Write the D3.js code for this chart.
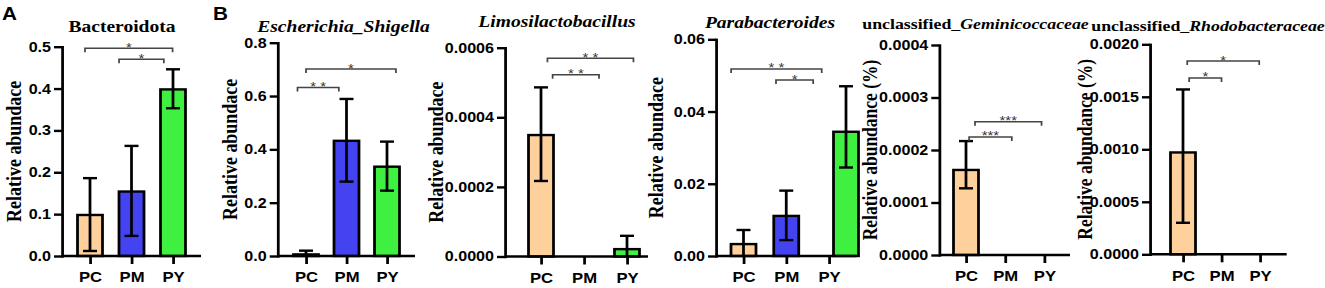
<!DOCTYPE html>
<html>
<head>
<meta charset="utf-8">
<script src="https://cdn.jsdelivr.net/npm/d3@7"></script>
<style>
  html, body { margin: 0; background: #fff; }
  svg { display: block; }
</style>
</head>
<body>
<div id="chart"></div>
<script>
const GROUPS = ['PC', 'PM', 'PY']
const COLORS = { PC: '#fdd09c', PM: '#4343f2', PY: '#40f040' }

// bar heights and error-bar ends
const bacteroidotaMean = [0.098, 0.154, 0.398]
const bacteroidotaLow  = [0.012, 0.048, 0.353]
const bacteroidotaHigh = [0.186, 0.263, 0.446]
const bacteroidotaTicks = [0, 0.1, 0.2, 0.3, 0.4, 0.5]

const escherichiaMean = [0.006, 0.432, 0.335]
const escherichiaLow  = [0, 0.279, 0.245]
const escherichiaHigh = [0.02, 0.589, 0.429]
const escherichiaTicks = [0, 0.2, 0.4, 0.6, 0.8]

const limosiMean = [0.000349, 0, 0.0000212]
const limosiLow  = [0.000217, 0, 0]
const limosiHigh = [0.000486, 0, 0.0000594]
const limosiTicks = [0, 0.0002, 0.0004, 0.0006]

const paraMean = [0.0033, 0.0111, 0.0344]
const paraLow  = [0, 0.0044, 0.0245]
const paraHigh = [0.0072, 0.0181, 0.0470]
const paraTicks = [0, 0.02, 0.04, 0.06]

const geminiMean = [0.000162, 0, 0]
const geminiLow  = [0.000127, 0, 0]
const geminiHigh = [0.000217, 0, 0]
const geminiTicks = [0, 0.0001, 0.0002, 0.0003, 0.0004]

const rhodoMean = [0.00097, 0, 0]
const rhodoLow  = [0.0003, 0, 0]
const rhodoHigh = [0.00157, 0, 0]
const rhodoTicks = [0, 0.0005, 0.001, 0.0015, 0.002]

// significance brackets: [from group index, to group index, height, stars]
const bacteroidotaSig = [[-0.12, 1.99, 0.496, '*'], [0.70, 1.78, 0.470, '*']]
const escherichiaSig  = [[0, 2.22, 0.701, '*'], [-0.21, 0.81, 0.632, '* *']]
const limosiSig       = [[0.15, 2.15, 0.000570, '* *'], [0.27, 1.35, 0.000522, '* *']]
const paraSig         = [[-0.29, 1.83, 0.0518, '* *'], [0.76, 1.63, 0.0487, '*']]
const geminiSig       = [[0.23, 1.93, 0.000254, '***'], [0.08, 1.17, 0.000225, '***']]
const rhodoSig        = [[0.11, 1.98, 0.00184, '*'], [0.16, 1.0, 0.00168, '*']]

const PANELS = [
  { title: [['Bacteroidota', false]], ylabel: 'Relative abundace', fmt: '.1f',
    mean: bacteroidotaMean, low: bacteroidotaLow, high: bacteroidotaHigh, ticks: bacteroidotaTicks, sig: bacteroidotaSig },
  { title: [['Escherichia_Shigella', true]], ylabel: 'Relative abundace', fmt: '.1f',
    mean: escherichiaMean, low: escherichiaLow, high: escherichiaHigh, ticks: escherichiaTicks, sig: escherichiaSig },
  { title: [['Limosilactobacillus', true]], ylabel: 'Relative abundace', fmt: '.4f',
    mean: limosiMean, low: limosiLow, high: limosiHigh, ticks: limosiTicks, sig: limosiSig },
  { title: [['Parabacteroides', true]], ylabel: 'Relative abundace', fmt: '.2f',
    mean: paraMean, low: paraLow, high: paraHigh, ticks: paraTicks, sig: paraSig },
  { title: [['unclassified_', false], ['Geminicoccaceae', true]], ylabel: 'Relative abundance (%)', fmt: '.4f',
    mean: geminiMean, low: geminiLow, high: geminiHigh, ticks: geminiTicks, sig: geminiSig },
  { title: [['unclassified_', false], ['Rhodobacteraceae', true]], ylabel: 'Relative abundance (%)', fmt: '.4f',
    mean: rhodoMean, low: rhodoLow, high: rhodoHigh, ticks: rhodoTicks, sig: rhodoSig },
]

// where each panel sits, in page pixels
const LAYOUT = [
  { axisX: 62,    right: 201,   c0: 90,     c2: 173,    top: 46.7, bottom: 256,   titleX: 122,    titleY: 32, titleSize: 17,   labelX: 21 },
  { axisX: 277.7, right: 415,   c0: 306,    c2: 387,    top: 42.7, bottom: 256,   titleX: 343.5,  titleY: 32, titleSize: 17,   labelX: 237 },
  { axisX: 505,   right: 648,   c0: 541,    c2: 627,    top: 47.7, bottom: 256.5, titleX: 557,    titleY: 27, titleSize: 17,   labelX: 443 },
  { axisX: 716,   right: 856.7, c0: 743.5,  c2: 829,    top: 39.3, bottom: 256,   titleX: 770,    titleY: 28, titleSize: 17,   labelX: 663, shift: [0, 0, 17] },
  { axisX: 939.3, right: 1070,  c0: 966,    c2: 1044.3, top: 45,   bottom: 255,   titleX: 975.5,  titleY: 29, titleSize: 15.5, labelX: 877 },
  { axisX: 1150,  right: 1286.7, c0: 1183,  c2: 1260,   top: 44.3, bottom: 254.3, titleX: 1208,   titleY: 31, titleSize: 15.5, labelX: 1092 },
]
const LETTERS = [['A', 2], ['B', 213]]

const W = 1325, H = 288
const SX = 1.15          // the figure is a little stretched sideways
const px = v => v / SX
const BAR_W = 25
const CAP = 7
const SANS = "'Liberation Sans', Arial, sans-serif"
const SERIF = "'Liberation Serif', 'Times New Roman', serif"

const svg = d3.select('#chart').append('svg')
  .attr('width', W).attr('height', H)
  .attr('viewBox', `0 0 ${W} ${H}`)
const root = svg.append('g').attr('transform', `scale(${SX},1)`)

root.selectAll('text.letter').data(LETTERS).join('text')
  .attr('class', 'letter')
  .attr('x', d => px(d[1])).attr('y', 20)
  .attr('font-family', SANS).attr('font-weight', 'bold').attr('font-size', 18)
  .text(d => d[0])

PANELS.forEach((p, i) => {
  const L = LAYOUT[i]
  const shift = L.shift || [0, 0, 0]
  const g = root.append('g')

  const x = d3.scalePoint().domain(GROUPS).range([px(L.c0), px(L.c2)])
  const y = d3.scaleLinear().domain([0, p.ticks[p.ticks.length - 1]]).range([L.bottom, L.top])
  const xi = t => x(GROUPS[0]) + t * x.step()

  const rows = GROUPS.map((k, j) => ({
    k, cx: x(k) + px(shift[j]), m: p.mean[j], lo: p.low[j], hi: p.high[j]
  }))

  // bars
  g.selectAll('rect.bar').data(rows.filter(d => d.m > 0)).join('rect')
    .attr('class', 'bar')
    .attr('x', d => d.cx - px(BAR_W) / 2)
    .attr('y', d => y(d.m))
    .attr('width', px(BAR_W))
    .attr('height', d => y(0) - y(d.m))
    .attr('fill', d => COLORS[d.k])
    .attr('stroke', '#000').attr('stroke-width', 2.4)

  // error bars
  const eb = g.selectAll('g.err').data(rows.filter(d => d.hi > 0)).join('g').attr('class', 'err')
    .attr('stroke', '#000').attr('stroke-width', 2.4)
  eb.append('line')
    .attr('x1', d => d.cx).attr('x2', d => d.cx)
    .attr('y1', d => y(d.lo)).attr('y2', d => y(d.hi))
  eb.append('line')
    .attr('x1', d => d.cx - px(CAP)).attr('x2', d => d.cx + px(CAP))
    .attr('y1', d => y(d.hi)).attr('y2', d => y(d.hi))
  eb.filter(d => d.lo > 0).append('line')
    .attr('x1', d => d.cx - px(CAP)).attr('x2', d => d.cx + px(CAP))
    .attr('y1', d => y(d.lo)).attr('y2', d => y(d.lo))

  // axes
  g.append('g')
    .attr('transform', `translate(${px(L.axisX)},0)`)
    .call(d3.axisLeft(y).tickValues(p.ticks).tickFormat(d3.format(p.fmt))
      .tickSize(px(8)).tickSizeOuter(0).tickPadding(px(3)))
    .call(a => a.selectAll('line, path').attr('stroke', '#000').attr('stroke-width', 2.4))
    .call(a => a.select('path').attr('stroke-linecap', 'square'))
    .call(a => a.selectAll('text').attr('fill', '#000')
      .attr('font-family', SANS).attr('font-weight', 'bold').attr('font-size', 14))

  g.append('line')
    .attr('x1', px(L.axisX)).attr('x2', px(L.right))
    .attr('y1', y(0)).attr('y2', y(0))
    .attr('stroke', '#000').attr('stroke-width', 2.4)

  g.append('g')
    .attr('transform', `translate(0,${y(0)})`)
    .call(d3.axisBottom(x).tickSize(8).tickSizeOuter(0).tickPadding(8))
    .call(a => a.select('path').remove())
    .call(a => a.selectAll('line').attr('stroke', '#000').attr('stroke-width', 2.4))
    .call(a => a.selectAll('text').attr('fill', '#000')
      .attr('font-family', SANS).attr('font-weight', 'bold').attr('font-size', 14.5))

  // significance brackets
  const sg = g.selectAll('g.sig').data(p.sig).join('g').attr('class', 'sig')
  sg.append('path')
    .attr('d', d => `M${xi(d[0])},${y(d[2]) + 4}V${y(d[2])}H${xi(d[1])}V${y(d[2]) + 4}`)
    .attr('fill', 'none').attr('stroke', '#444').attr('stroke-width', 1.5)
  sg.append('text')
    .attr('x', d => (xi(d[0]) + xi(d[1])) / 2)
    .attr('y', d => y(d[2]) + 3.5)
    .attr('text-anchor', 'middle')
    .attr('font-family', SANS).attr('font-size', 13).attr('fill', '#333')
    .text(d => d[3])

  // title
  g.append('text')
    .attr('x', px(L.titleX)).attr('y', L.titleY)
    .attr('text-anchor', 'middle')
    .attr('font-family', SERIF).attr('font-weight', 'bold').attr('font-size', L.titleSize)
    .selectAll('tspan').data(p.title).join('tspan')
    .attr('font-style', d => d[1] ? 'italic' : 'normal')
    .text(d => d[0])

  // y label
  g.append('text')
    .attr('transform', `translate(${px(L.labelX)},${(L.top + L.bottom) / 2}) rotate(-90)`)
    .attr('text-anchor', 'middle')
    .attr('font-family', SERIF).attr('font-weight', 'bold')
    .attr('font-size', p.ylabel.includes('%') ? 17.5 : 18)
    .text(p.ylabel)
})
</script>
</body>
</html>
